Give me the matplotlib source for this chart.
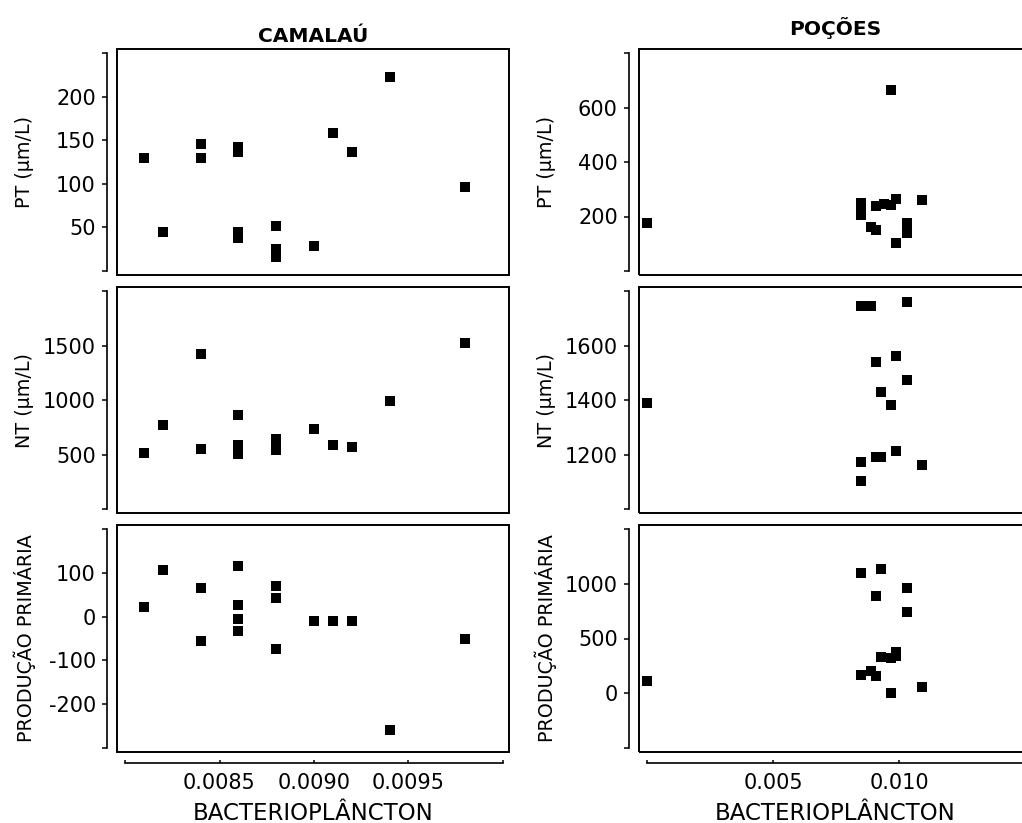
import numpy as np
import matplotlib
matplotlib.use("Agg")
from matplotlib import pyplot as plt
from matplotlib.patches import Rectangle
from matplotlib.ticker import FixedLocator, FormatStrFormatter

plt.rcParams["font.family"] = ["DejaVu Sans"]
plt.rcParams["axes.unicode_minus"] = False

# CAMALAÚ: same x (bacterioplâncton) for the three variables
camalau_bact = [0.0081, 0.0082, 0.0084, 0.0084, 0.0086, 0.0086, 0.0086, 0.0086,
                0.0088, 0.0088, 0.0088, 0.0090, 0.0091, 0.0092, 0.0094, 0.0098]
camalau_pt = [130, 45, 146, 130, 142, 137, 45, 38, 52, 25, 16, 29, 158, 137, 222, 96]
camalau_nt = [518, 773, 1421, 552, 864, 590, 550, 505, 640, 590, 540, 733, 591, 570, 991, 1521]
camalau_pp = [23, 106, 65, -56, 115, 27, -5, -33, 69, 42, -74, -9, -9, -9, -259, -51]

# POÇÕES
pocoes_pt_bact = [0.0, 0.0085, 0.0085, 0.0085, 0.0089, 0.0091, 0.0091, 0.0094,
                  0.0097, 0.0097, 0.0099, 0.0099, 0.0103, 0.0103, 0.0109]
pocoes_pt = [175, 250, 228, 204, 160, 150, 240, 245, 243, 664, 265, 102, 175, 140, 261]
pocoes_nt_bact = [0.0, 0.0085, 0.0085, 0.0085, 0.0089, 0.0091, 0.0091, 0.0093,
                  0.0093, 0.0097, 0.0099, 0.0099, 0.0103, 0.0103, 0.0109]
pocoes_nt = [1388, 1745, 1171, 1103, 1745, 1539, 1189, 1430, 1189, 1382, 1561, 1212, 1759, 1474, 1161]
pocoes_pp_bact = [0.0, 0.0085, 0.0085, 0.0089, 0.0091, 0.0091, 0.0093, 0.0093,
                  0.0097, 0.0097, 0.0099, 0.0099, 0.0103, 0.0103, 0.0109]
pocoes_pp = [111, 1094, 165, 201, 159, 886, 1139, 330, 0, 320, 380, 340, 958, 744, 54]

site_titles = ["CAMALAÚ", "POÇÕES"]
row_labels = ["PT (µm/L)", "NT (µm/L)", "PRODUÇÃO PRIMÁRIA"]
x_label = "BACTERIOPLÂNCTON"

camalau_x_ticks = [0.0085, 0.0090, 0.0095]
pocoes_x_ticks = [0.005, 0.010]
camalau_y_ticks = [[50, 100, 150, 200], [500, 1000, 1500], [-200, -100, 0, 100]]
pocoes_y_ticks = [[200, 400, 600], [1200, 1400, 1600], [0, 500, 1000]]
camalau_y_range = [(0, 250), (0, 2000), (-300, 200)]
pocoes_y_range = [(0, 800), (1000, 1800), (-500, 1500)]

W, H = 1022, 823
COLS = [(117, 509), (639, 1031)]
ROWS = [(49, 275), (287, 513), (525, 752)]
X_INSET = (8, 6)
Y_INSET = (4, 4)


def padded_lim(lo, hi, size_px, inset):
    per_px = (hi - lo) / (size_px - inset[0] - inset[1])
    return lo - inset[0] * per_px, hi + inset[1] * per_px


def make_panel(fig, col, row, xs, ys, x_range, x_ticks, x_fmt, y_range, y_ticks):
    x0, x1 = COLS[col]
    y0, y1 = ROWS[row]
    ax = fig.add_axes([x0 / W, 1 - y1 / H, (x1 - x0) / W, (y1 - y0) / H])
    ax.patch.set_visible(False)

    ax.plot(xs, ys, "s", color="black", ms=7, mew=0, clip_on=False)

    ax.set_xlim(*padded_lim(x_range[0], x_range[1], x1 - x0, X_INSET))
    ax.set_ylim(*padded_lim(y_range[0], y_range[1], y1 - y0, (Y_INSET[1], Y_INSET[0])))

    for side in ("top", "right", "bottom"):
        ax.spines[side].set_visible(False)
    ax.spines["left"].set_position(("outward", 7.2))
    ax.spines["left"].set_bounds(*y_range)
    ax.spines["left"].set_linewidth(1.2)

    ax.yaxis.set_major_locator(FixedLocator(y_ticks))
    ax.yaxis.set_minor_locator(FixedLocator(list(y_range)))
    ax.tick_params(axis="y", which="both", direction="out", length=3.6, width=1.1,
                   labelsize=15, pad=4.5)

    if row == 2:
        ax.spines["bottom"].set_visible(True)
        ax.spines["bottom"].set_position(("outward", 8))
        ax.spines["bottom"].set_bounds(*x_range)
        ax.spines["bottom"].set_linewidth(1.2)
        ax.xaxis.set_major_locator(FixedLocator(x_ticks))
        ax.xaxis.set_minor_locator(FixedLocator(list(x_range)))
        ax.xaxis.set_major_formatter(FormatStrFormatter(x_fmt))
        ax.tick_params(axis="x", which="both", direction="in", length=2.4, width=1.1,
                       labelsize=15, pad=7)
        fig.text((x0 + x1) / 2 / W, 1 - 820 / H, x_label, ha="center",
                 va="baseline", fontsize=16.5)
    else:
        ax.set_xticks([])

    # plot frame
    ax.add_patch(Rectangle((0, 0), 1, 1, transform=ax.transAxes, fill=False,
                           lw=1.4, ec="black", clip_on=False))

    lab_x = 24.5 if col == 0 else 546
    fig.text(lab_x / W, 1 - (y0 + y1) / 2 / H, row_labels[row], rotation=90,
             ha="center", va="center", fontsize=13.8)
    return ax


fig = plt.figure(figsize=(W / 100, H / 100), dpi=100)

camalau_rows = [camalau_pt, camalau_nt, camalau_pp]
pocoes_rows = [(pocoes_pt_bact, pocoes_pt), (pocoes_nt_bact, pocoes_nt),
               (pocoes_pp_bact, pocoes_pp)]

for r in range(3):
    make_panel(fig, 0, r, camalau_bact, camalau_rows[r], (0.0080, 0.0100),
               camalau_x_ticks, "%.4f", camalau_y_range[r], camalau_y_ticks[r])
    make_panel(fig, 1, r, pocoes_rows[r][0], pocoes_rows[r][1], (0.0, 0.015),
               pocoes_x_ticks, "%.3f", pocoes_y_range[r], pocoes_y_ticks[r])

fig.text(313 / W, 1 - 42 / H, site_titles[0], ha="center", va="baseline",
         fontsize=14.5, fontweight="bold")
fig.text(835 / W, 1 - 35 / H, site_titles[1], ha="center", va="baseline",
         fontsize=14.5, fontweight="bold")

fig.savefig("out.png", dpi=100)
